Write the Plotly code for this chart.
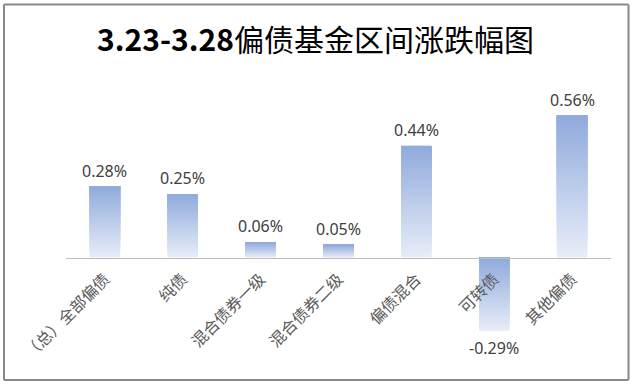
import plotly.graph_objects as go

# ---- data ----
categories = ["（总）全部偏债", "纯债", "混合债券一级", "混合债券二级", "偏债混合", "可转债", "其他偏债"]
values = [0.28, 0.25, 0.06, 0.05, 0.44, -0.29, 0.56]          # percent
value_labels = ["0.28%", "0.25%", "0.06%", "0.05%", "0.44%", "-0.29%", "0.56%"]
title_num = "3.23-3.28"
title_txt = "偏债基金区间涨跌幅图"

# ---- layout constants ----
W, H = 635, 386
L, R, T, B = 66, 24, 80, 27
YMIN, YMAX = -0.4, 0.7
CJK = "Noto Sans CJK SC"

top_rgb = (143, 170, 220)
bot_rgb = (232, 237, 248)
N = 40


def mix(t):
    c = [round(b + (a - b) * t) for a, b in zip(top_rgb, bot_rgb)]
    return f"rgb({c[0]},{c[1]},{c[2]})"


fig = go.Figure()

# gradient bars: overlapping slices, each running from its start to the bar top,
# lighter at the bottom and darker towards the top
for k in range(N):
    t = (k + 0.5) / N
    bases, heights = [], []
    for v in values:
        lo, hi = min(0, v), max(0, v)
        seg = (hi - lo) / N
        bases.append(lo + k * seg)
        heights.append(hi - (lo + k * seg))
    fig.add_bar(x=categories, y=heights, base=bases, width=0.39,
                marker=dict(color=mix(t), line=dict(width=0)),
                hoverinfo="skip", showlegend=False)

# value labels
for c, v, s in zip(categories, values, value_labels):
    fig.add_annotation(x=c, y=v, text=s, showarrow=False,
                       yanchor="middle", yshift=16 if v >= 0 else -17,
                       font=dict(family="Noto Sans", size=16, color="#404040"))

pw, ph = W - L - R, H - T - B


def px(x):
    return (x - L) / pw


def py(y):
    return (H - B - y) / ph


border = dict(color="#888888", width=2)
for (x0, y0, x1, y1) in [(4, 4.5, 628.5, 4.5), (4, 380, 628.5, 380),
                         (4, 4.5, 4, 380), (628.5, 4.5, 628.5, 380)]:
    fig.add_shape(type="line", xref="paper", yref="paper",
                  x0=px(x0), x1=px(x1), y0=py(y0), y1=py(y1), line=border)

fig.update_layout(
    width=W, height=H,
    margin=dict(l=L, r=R, t=T, b=B, pad=0),
    barmode="overlay",
    paper_bgcolor="white", plot_bgcolor="white",
    title=dict(text=f"<b>{title_num}</b>{title_txt}",
               x=315.5 / W, xref="container", xanchor="center",
               y=1 - 40 / H, yref="container", yanchor="middle",
               font=dict(family=CJK, size=30, color="black")),
    xaxis=dict(type="category", anchor="free", position=-YMIN / (YMAX - YMIN),
               showline=True, linecolor="#BFBFBF", linewidth=1,
               showgrid=False, zeroline=False, ticks="", tickangle=-45,
               ticklabelstandoff=5,
               tickfont=dict(family=CJK, size=16, color="#595959"),
               automargin=False, fixedrange=True),
    yaxis=dict(range=[YMIN, YMAX], visible=False, showgrid=False,
               zeroline=False, automargin=False, fixedrange=True),
    showlegend=False,
)

fig.write_html("out.html", config={"displayModeBar": False},
               post_script="document.body.style.margin='0px';")
